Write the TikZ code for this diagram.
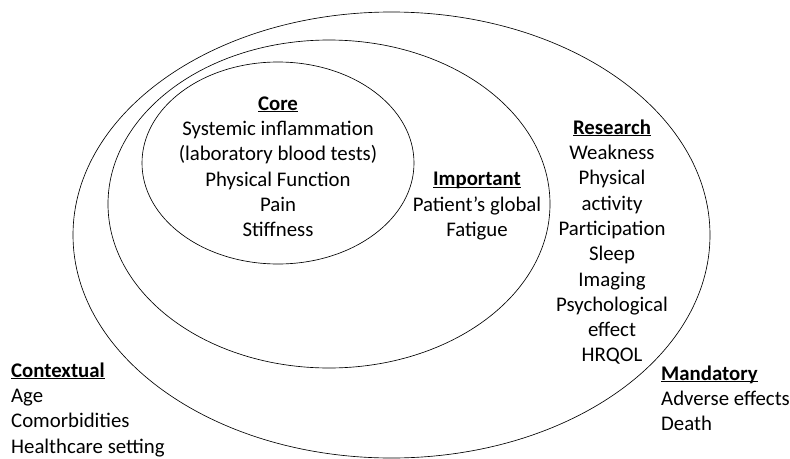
\documentclass[tikz,border=0pt]{standalone}
\usepackage{fontspec}
\setmainfont{Carlito}
\newcommand{\uhead}[1]{\underline{\smash{\textbf{#1}}}}

\begin{document}
\begin{tikzpicture}[
		x=1pt, y=-1pt,
		ring/.style={draw, line width=0.65pt},
		txt/.style={font=\fontsize{20.8}{25.3}\selectfont, inner sep=0pt, align=center},
		txtl/.style={txt, align=left, anchor=west}
		]
		\useasboundingbox (0,0) rectangle (790,458);
		
		% ===== 3 ellipses =====
		\draw[ring] (391.5,235) ellipse [x radius=318.5, y radius=223];
		\draw[ring] (329,204) ellipse [x radius=221, y radius=164];
		\draw[ring] (278,163) ellipse [x radius=136, y radius=101];
		
		% ===== texts inside =====
		\node[txt] (core) at (278,173.5) {\uhead{Core}\\Systemic inflammation\\(laboratory blood tests)\\Physical Function\\Pain\\Stiffness};
		\node[txt] (important) at (477,213) {\uhead{Important}\\Patient’s global\\Fatigue};
		\node[txt] (research) at (612,249.5) {\uhead{Research}\\Weakness\\Physical\\activity\\Participation\\Sleep\\Imaging\\Psychological\\effect\\HRQOL};
		
		% ===== texts outside =====
		\node[txtl] (contextual) at (11,417) {\uhead{Contextual}\\Age\\Comorbidities\\Healthcare setting};
		\node[txtl] (mandatory) at (661,405.5) {\uhead{Mandatory}\\Adverse effects\\Death};
		
	\end{tikzpicture}
\end{document}
